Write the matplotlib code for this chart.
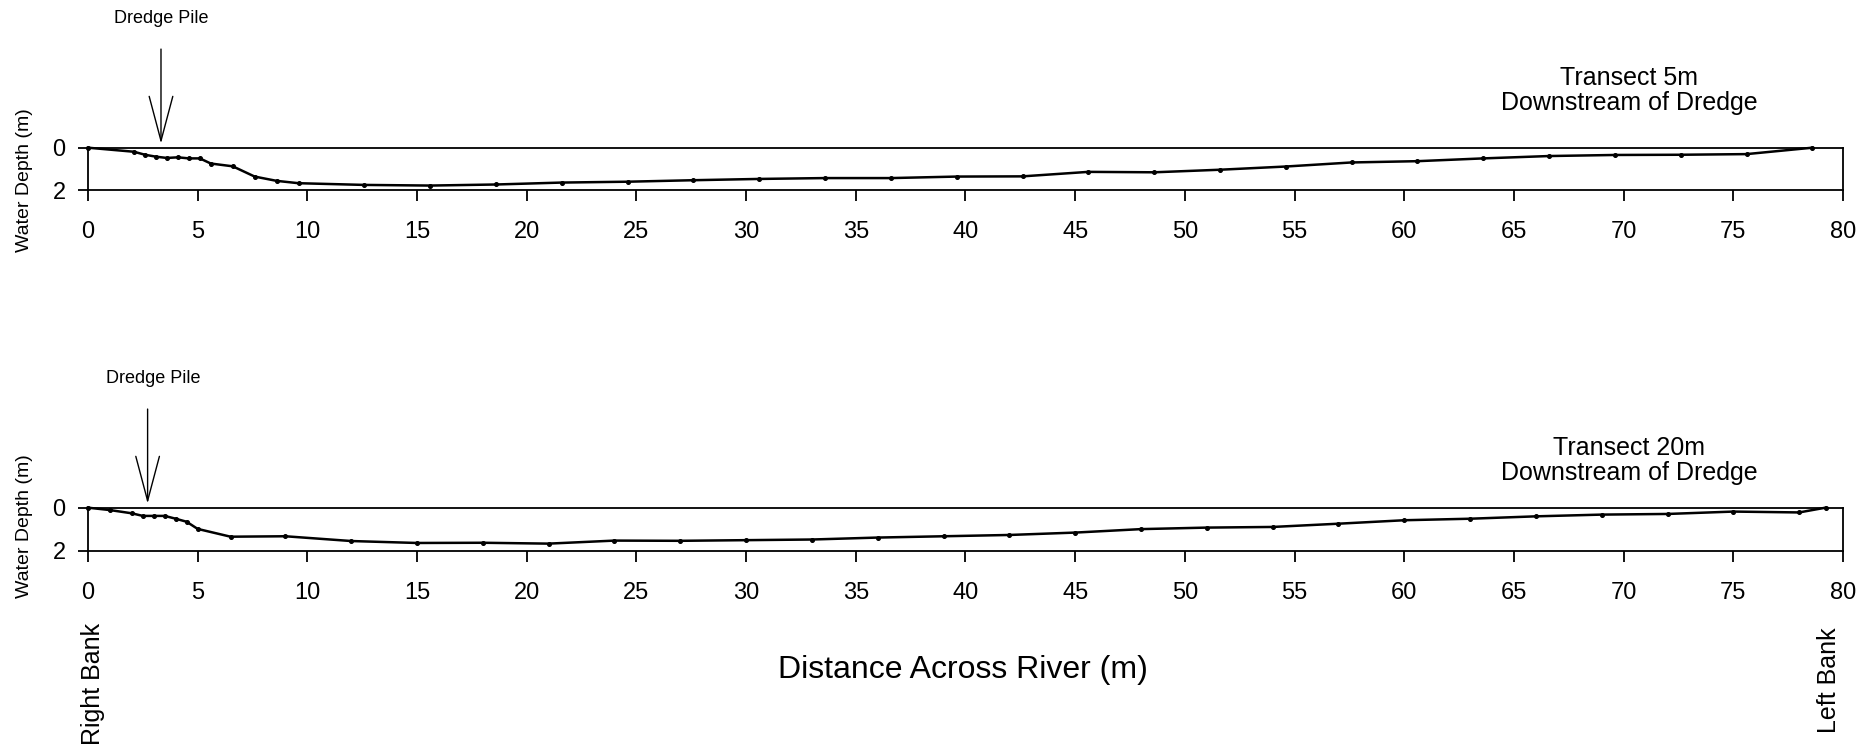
import matplotlib
matplotlib.use('Agg')
import matplotlib.pyplot as plt

# distance across river (m) and water depth (m) for each transect
dist_5m = [0, 2.1, 2.6, 3.1, 3.6, 4.1, 4.6, 5.1, 5.6, 6.6, 7.6, 8.6, 9.6, 12.6, 15.6,
           18.6, 21.6, 24.6, 27.6, 30.6, 33.6, 36.6, 39.6, 42.6, 45.6, 48.6, 51.6,
           54.6, 57.6, 60.6, 63.6, 66.6, 69.6, 72.6, 75.6, 78.6]
depth_5m = [0, 0.19, 0.33, 0.42, 0.48, 0.45, 0.50, 0.50, 0.74, 0.87, 1.35, 1.55, 1.66,
            1.74, 1.77, 1.72, 1.63, 1.59, 1.52, 1.46, 1.42, 1.42, 1.35, 1.34, 1.13,
            1.15, 1.03, 0.88, 0.69, 0.63, 0.50, 0.39, 0.34, 0.33, 0.30, 0.0]

dist_20m = [0, 1, 2, 2.5, 3, 3.5, 4, 4.5, 5, 6.5, 9, 12, 15, 18, 21, 24, 27, 30, 33,
            36, 39, 42, 45, 48, 51, 54, 57, 60, 63, 66, 69, 72, 75, 78, 79.2]
depth_20m = [0, 0.11, 0.26, 0.38, 0.38, 0.38, 0.51, 0.65, 0.98, 1.34, 1.32, 1.54, 1.63,
             1.62, 1.66, 1.52, 1.53, 1.50, 1.47, 1.38, 1.32, 1.26, 1.15, 0.99, 0.92,
             0.89, 0.74, 0.58, 0.51, 0.40, 0.32, 0.29, 0.18, 0.22, 0.0]

x_ticks = list(range(0, 85, 5))
y_ticks = [0, 2]

# where the dredge pile sits on each transect
pile_5m = 3.33
pile_20m = 2.72

titles = ['Transect 5m\nDownstream of Dredge', 'Transect 20m\nDownstream of Dredge']


def draw_transect(ax, dist, depth, pile_x, title, title_offset, text_dx, label_y):
    ax.plot(dist, depth, color='black', lw=1.8, marker='o', markersize=2.6,
            clip_on=False, zorder=3)
    ax.set_xlim(0, 80)
    ax.set_ylim(2, 0)
    ax.set_xticks(x_ticks)
    ax.set_yticks(y_ticks)
    ax.tick_params(axis='x', direction='out', length=8, width=1.3, pad=14, labelsize=17)
    ax.tick_params(axis='y', direction='out', length=7, width=1.3, pad=9, labelsize=17)
    for s in ax.spines.values():
        s.set_linewidth(1.3)

    ax.set_ylabel('Water Depth (m)', fontsize=14)
    ax.yaxis.set_label_coords(-0.0313, label_y)

    # dredge pile arrow
    ax.annotate('', xy=(pile_x, 0), xycoords='data',
                xytext=(0, 71), textcoords='offset points',
                arrowprops=dict(arrowstyle='->, head_length=3.2, head_width=0.85',
                                mutation_scale=10, lw=1.0, color='black',
                                shrinkA=0, shrinkB=3))
    ax.annotate('Dredge Pile', xy=(pile_x, 0), xycoords='data',
                xytext=(text_dx, 93), textcoords='offset points',
                ha='center', va='center', fontsize=13)

    ax.annotate(title, xy=(0.878, 1), xycoords='axes fraction',
                xytext=(0, title_offset), textcoords='offset points',
                ha='center', va='center', fontsize=18, linespacing=1.05)


def main():
    plt.rcParams['font.family'] = ['Liberation Sans', 'DejaVu Sans']

    fig = plt.figure(figsize=(18.63, 7.52), dpi=100)
    ax1 = fig.add_axes([0.0472, 0.7467, 0.9421, 0.0569])
    ax2 = fig.add_axes([0.0472, 0.2673, 0.9421, 0.0576])

    draw_transect(ax1, dist_5m, depth_5m, pile_5m, titles[0], 41, 0, 0.245)
    draw_transect(ax2, dist_20m, depth_20m, pile_20m, titles[1], 34, 4, 0.58)

    fig.text(0.517, 0.109, 'Distance Across River (m)', ha='center', va='center',
             fontsize=23)
    fig.text(0.0498, 0.090, 'Right Bank', ha='center', va='center',
             rotation=90, fontsize=18)
    fig.text(0.9818, 0.096, 'Left Bank', ha='center', va='center',
             rotation=90, fontsize=18)

    fig.savefig('out.png', dpi=100, facecolor='white')


if __name__ == "__main__":
    main()
